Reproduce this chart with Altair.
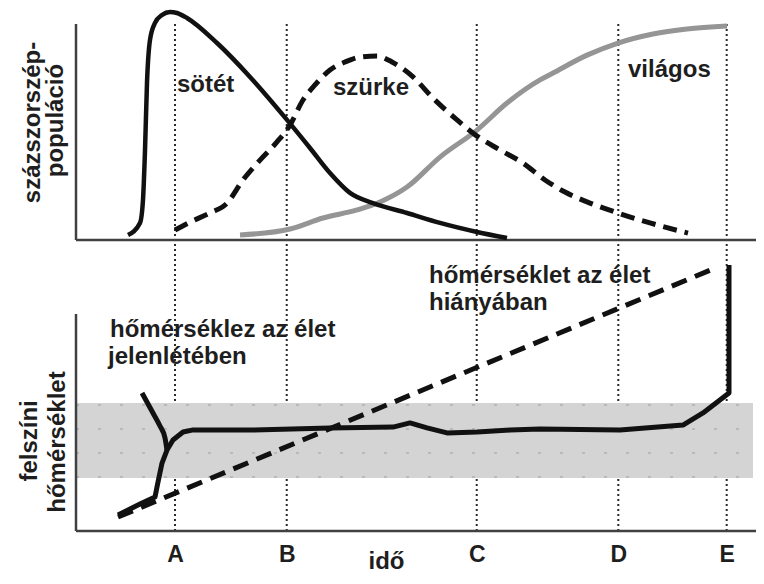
import altair as alt
import pandas as pd

# ---- time marks (A..E) ----
mark_labels = ["A", "B", "C", "D", "E"]
mark_t = [14.56, 30.99, 58.93, 79.75, 95.69]

# ---- top panel: daisy populations ----
dark_t = [7.65, 9.41, 9.85, 10.15, 10.44, 10.88, 11.62, 12.65, 13.82, 14.85, 16.32,
          20.74, 25.59, 31.03, 34.41, 37.35, 40.29, 43.68, 48.68, 53.53, 58.97, 63.38]
dark_pop = [2.3, 7.9, 18.5, 41.7, 72.7, 92.6, 100.5, 104.2, 105.6, 105.1, 102.8,
            91.2, 75.5, 55.6, 42.6, 31.0, 21.8, 17.1, 12.5, 7.9, 3.7, 0.9]

grey_t = [14.56, 16.76, 19.71, 22.21, 24.56, 27.06, 29.56, 31.47, 33.38, 35.15, 37.35,
          39.56, 41.76, 44.26, 46.47, 49.56, 52.5, 56.03, 58.97, 62.35, 65.74, 68.97,
          71.91, 75.59, 79.71, 84.41, 90.0]
grey_pop = [4.6, 8.3, 12.5, 17.1, 27.8, 37.0, 45.4, 53.2, 64.8, 71.8, 78.7,
            82.4, 84.7, 85.2, 82.4, 75.5, 65.7, 55.6, 48.1, 41.7, 35.6, 27.8,
            22.2, 17.1, 12.5, 7.9, 3.2]

light_t = [24.12, 31.47, 36.32, 41.32, 44.71, 48.68, 53.53, 58.97, 63.38, 68.24,
           70.15, 75.15, 79.71, 84.85, 89.85, 95.74]
light_pop = [2.3, 5.1, 10.2, 13.9, 17.6, 24.5, 38.4, 50.9, 63.4, 74.1,
             77.3, 85.6, 91.2, 95.4, 97.7, 99.1]

# ---- bottom panel: surface temperature ----
nolife_t = [6.18, 94.41]
nolife_temp = [6.45, 121.7]

life_t = [6.18, 9.41, 11.62, 12.06, 12.65, 13.38, 14.26, 15.74, 17.06, 25.59, 37.35,
          46.62, 49.12, 51.62, 54.56, 58.97, 63.82, 68.24, 80.0, 89.26, 92.21, 96.03, 96.03]
life_temp = [7.4, 12.4, 15.7, 22.6, 31.3, 37.3, 41.9, 45.6, 46.5, 46.5, 47.5,
             47.9, 49.8, 47.5, 45.2, 45.6, 46.5, 47.0, 46.5, 48.8, 54.4, 63.6, 122.6]

branch_t = [9.71, 11.32, 12.35, 13.09, 13.38]
branch_temp = [63.6, 54.4, 48.4, 42.9, 37.3]

band_t = [0.0, 99.56]
band_temp = [24.4, 59.0]
band_rows = [58.1, 47.0, 35.9, 24.9]

# ---- texts ----
top_text = ["sötét", "szürke", "világos"]
top_text_t = [14.85, 37.79, 81.18]
top_text_y = [68.5, 67.1, 75.5]

bot_text = ["hőmérséklet az élet", "hiányában", "hőmérséklez az élet", "jelenlétében"]
bot_text_t = [51.91, 51.91, 5.0, 4.7]
bot_text_y = [114.3, 101.8, 89.4, 77.0]

top_title = ["százszorszép-", "populáció"]
top_title_t = [-5.29, -1.91]
top_title_y = [54.4, 55.3]

bot_title = ["felszíni", "hőmérséklet"]
bot_title_t = [-5.74, -1.62]
bot_title_y = [41.5, 41.0]

FONT = "Liberation Sans"
INK = "#1e1e1e"

xs = alt.Scale(domain=[-10, 100], nice=False, zero=False)
ys_top = alt.Scale(domain=[-134.72, 107.41], nice=False, zero=False)
ys_bot = alt.Scale(domain=[0, 241.01], nice=False, zero=False)

label_expr = "".join(
    f"abs(datum.value - {t}) < 0.5 ? '{l}' : " for t, l in zip(mark_t, mark_labels)
) + "''"

x_axis = alt.Axis(values=mark_t, labelExpr=label_expr, domain=False, ticks=False,
                  tickSize=0, grid=False, labelFont=FONT, labelFontSize=23,
                  labelFontWeight="bold", labelColor=INK, labelPadding=30,
                  labelBaseline="alphabetic", labelFlush=False, labelOverlap=False,
                  title="idő", titleFont=FONT, titleFontSize=24, titleFontWeight="bold",
                  titleColor=INK, titleX=378, titleY=37, titleBaseline="alphabetic",
                  titleAlign="center")


def X(f):
    return alt.X(f, type="quantitative", scale=xs, axis=x_axis)


def Y(f, sc):
    return alt.Y(f, type="quantitative", scale=sc, axis=None)


def Y2(f):
    return alt.Y2(f)


# data frames
marks_df = pd.DataFrame({"t": mark_t, "y0": [0.0] * 5, "y1": [234.6] * 5})
band_df = pd.DataFrame({"t0": [band_t[0]], "t1": [band_t[1]],
                        "y0": [band_temp[0]], "y1": [band_temp[1]]})
rows_df = pd.DataFrame({"t0": [band_t[0]] * len(band_rows), "t1": [band_t[1]] * len(band_rows),
                        "y": band_rows})
axes_df = pd.DataFrame({"t0": [0.0], "t1": [100.0], "y0": [0.0], "y1": [100.0]})

dark_df = pd.DataFrame({"t": dark_t, "v": dark_pop})
grey_df = pd.DataFrame({"t": grey_t, "v": grey_pop})
light_df = pd.DataFrame({"t": light_t, "v": light_pop})
nolife_df = pd.DataFrame({"t": nolife_t, "v": nolife_temp, "i": range(len(nolife_t))})
life_df = pd.DataFrame({"t": life_t, "v": life_temp, "i": range(len(life_t))})
branch_df = pd.DataFrame({"t": branch_t, "v": branch_temp, "i": range(len(branch_t))})

top_text_df = pd.DataFrame({"t": top_text_t, "y": top_text_y, "label": top_text})
bot_text_df = pd.DataFrame({"t": bot_text_t, "y": bot_text_y, "label": bot_text})
top_title_df = pd.DataFrame({"t": top_title_t, "y": top_title_y, "label": top_title})
bot_title_df = pd.DataFrame({"t": bot_title_t, "y": bot_title_y, "label": bot_title})

# ---- bottom panel layers ----
vlines = alt.Chart(marks_df).mark_rule(color="#2a2a2a", strokeWidth=2, strokeDash=[2, 3]).encode(
    x=X("t"), y=Y("y0", ys_bot), y2=Y2("y1"))

band = alt.Chart(band_df).mark_rect(color="#d4d4d4").encode(
    x=X("t0"), x2=alt.X2("t1"), y=Y("y0", ys_bot), y2=Y2("y1"))

rows = alt.Chart(rows_df).mark_rule(color="#b9b9b9", strokeWidth=2, strokeDash=[3, 19]).encode(
    x=X("t0"), x2=alt.X2("t1"), y=Y("y", ys_bot))

bot_xaxis = alt.Chart(axes_df).mark_rule(color="#404040", strokeWidth=2.5).encode(
    x=X("t0"), x2=alt.X2("t1"), y=Y("y0", ys_bot))
bot_yaxis = alt.Chart(axes_df).mark_rule(color="#404040", strokeWidth=2.5).encode(
    x=X("t0"), y=Y("y0", ys_bot), y2=Y2("y1"))

nolife = alt.Chart(nolife_df).mark_line(color="#111111", strokeWidth=5, strokeDash=[16, 9]).encode(
    x=X("t"), y=Y("v", ys_bot), order="i:Q")
life = alt.Chart(life_df).mark_line(color="#111111", strokeWidth=5, strokeJoin="round").encode(
    x=X("t"), y=Y("v", ys_bot), order="i:Q")
branch = alt.Chart(branch_df).mark_line(color="#111111", strokeWidth=5, interpolate="monotone").encode(
    x=X("t"), y=Y("v", ys_bot), order="i:Q")

bot_texts = alt.Chart(bot_text_df).mark_text(font=FONT, fontSize=24, fontWeight="bold", color=INK,
                                             align="left", baseline="alphabetic").encode(
    x=X("t"), y=Y("y", ys_bot), text="label:N")
bot_titles = alt.Chart(bot_title_df).mark_text(font=FONT, fontSize=24, fontWeight="bold", color=INK,
                                               align="center", baseline="alphabetic", angle=270).encode(
    x=X("t"), y=Y("y", ys_bot), text="label:N")

# ---- top panel layers ----
top_xaxis = alt.Chart(axes_df).mark_rule(color="#404040", strokeWidth=2.5).encode(
    x=X("t0"), x2=alt.X2("t1"), y=Y("y0", ys_top))
top_yaxis = alt.Chart(axes_df).mark_rule(color="#404040", strokeWidth=2.5).encode(
    x=X("t0"), y=Y("y0", ys_top), y2=Y2("y1"))

light = alt.Chart(light_df).mark_line(color="#959595", strokeWidth=5, interpolate="monotone").encode(
    x=X("t"), y=Y("v", ys_top))
grey = alt.Chart(grey_df).mark_line(color="#111111", strokeWidth=5, strokeDash=[14, 8],
                                    interpolate="monotone").encode(
    x=X("t"), y=Y("v", ys_top))
dark = alt.Chart(dark_df).mark_line(color="#111111", strokeWidth=4.5, interpolate="monotone").encode(
    x=X("t"), y=Y("v", ys_top))

top_texts = alt.Chart(top_text_df).mark_text(font=FONT, fontSize=24, fontWeight="bold", color=INK,
                                             align="left", baseline="alphabetic").encode(
    x=X("t"), y=Y("y", ys_top), text="label:N")
top_titles = alt.Chart(top_title_df).mark_text(font=FONT, fontSize=24, fontWeight="bold", color=INK,
                                               align="center", baseline="alphabetic", angle=270).encode(
    x=X("t"), y=Y("y", ys_top), text="label:N")

chart = alt.layer(
    vlines, band, rows, bot_xaxis, bot_yaxis, nolife, life, branch, bot_texts, bot_titles,
    top_xaxis, top_yaxis, light, grey, dark, top_texts, top_titles,
).resolve_scale(y="independent").properties(
    width=748, height=523,
    autosize=alt.AutoSizeParams(type="none"),
    padding={"left": 0, "top": 0, "right": 0, "bottom": 45},
    background="white",
).configure_view(stroke=None)

chart.save("out.html", embed_options={"renderer": "svg", "actions": False})
